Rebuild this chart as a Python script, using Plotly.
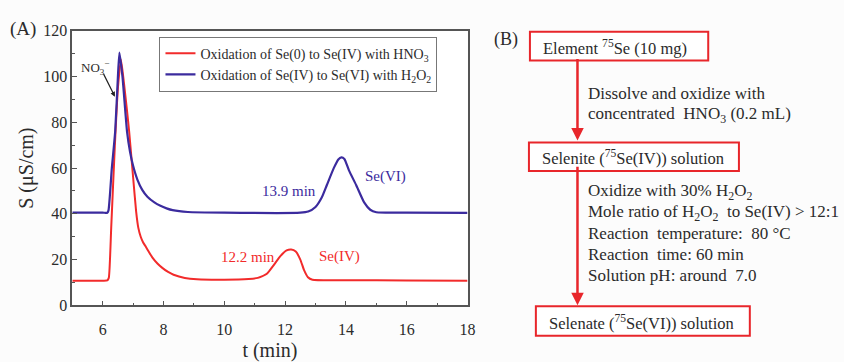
import plotly.graph_objects as go

W, H = 844, 362

# ---------------- data ----------------
t_red = [5.0, 6.0, 6.15, 6.2, 6.28, 6.4, 6.5, 6.6, 6.7, 6.8, 6.87, 7.0, 7.1, 7.17, 7.25,
         7.33, 7.41, 7.5, 7.63, 7.8, 7.95, 8.15, 8.33, 8.7, 9.1, 10.0, 10.8, 11.1, 11.4,
         11.62, 11.85, 12.05, 12.2, 12.35, 12.5, 12.62, 12.75, 12.9, 14.0, 16.0, 18.0]
s_red = [10.8, 10.8, 10.9, 12.0, 34, 70, 95, 107.5, 97, 85, 76, 56, 41, 34, 30,
         27.5, 25.8, 23.8, 21.0, 18.3, 16.5, 14.6, 13.4, 12.0, 11.4, 11.2, 11.5, 12.0, 13.8,
         17.5, 21.6, 24.0, 24.4, 23.5, 20.0, 15.5, 12.3, 11.2, 11.0, 10.9, 10.8]

t_blue = [5.0, 6.0, 6.15, 6.19, 6.3, 6.41, 6.5, 6.55, 6.65, 6.8, 6.9, 7.0, 7.14, 7.3,
          7.47, 7.7, 7.9, 8.1, 8.3, 8.8, 10.0, 12.5, 12.76, 13.0, 13.2, 13.37, 13.6,
          13.75, 13.85, 13.95, 14.1, 14.34, 14.6, 14.8, 15.0, 16.0, 18.0]
s_blue = [40.5, 40.5, 40.5, 41.5, 60, 76, 100, 110.5, 100, 76, 67, 61, 55, 50.5,
          47.5, 45.0, 43.5, 42.4, 41.6, 40.8, 40.5, 40.5, 41.0, 43.0, 47.0, 52.5, 60.0,
          63.8, 64.7, 64.0, 59.0, 52.5, 45.0, 41.8, 40.7, 40.5, 40.4]

series_names = ["Oxidation of Se(0) to Se(IV) with HNO<sub>3</sub>",
                "Oxidation of Se(IV) to Se(VI) with H<sub>2</sub>O<sub>2</sub>"]
x_ticks = [6, 8, 10, 12, 14, 16, 18]
y_ticks = [0, 20, 40, 60, 80, 100, 120]

RED = "#f22b2b"
BLUE = "#3b2b9e"
FONT = "Liberation Serif"
TXT = "#2b2b2b"

fig = go.Figure()
fig.add_trace(go.Scatter(x=t_red, y=s_red, mode="lines", name=series_names[0],
                         line=dict(color=RED, width=2, shape="spline", smoothing=0.5)))
fig.add_trace(go.Scatter(x=t_blue, y=s_blue, mode="lines", name=series_names[1],
                         line=dict(color=BLUE, width=2.2, shape="spline", smoothing=0.5)))

def px(x):
    return x / W

def py(y):
    return 1 - y / H

axis_common = dict(showline=True, linecolor="#555555", linewidth=1.5, mirror=True,
                   ticks="inside", ticklen=5, tickcolor="#555555", showgrid=False,
                   zeroline=False, tickfont=dict(family=FONT, size=16, color=TXT))

fig.update_layout(
    width=W, height=H, margin=dict(l=0, r=0, t=0, b=0),
    paper_bgcolor="#fcfcfc", plot_bgcolor="#ffffff",
    font=dict(family=FONT, color=TXT),
    xaxis=dict(domain=[px(73), px(472)], range=[5, 18], tickvals=x_ticks,
               minor=dict(ticks="inside", ticklen=3, dtick=1, tickcolor="#555555"),
               ticklabelstandoff=9,
               title=dict(text="t (min)", font=dict(family=FONT, size=20, color=TXT), standoff=10),
               **axis_common),
    yaxis=dict(domain=[py(312), py(24)], range=[0, 120], tickvals=y_ticks,
               minor=dict(ticks="inside", ticklen=3, dtick=10, tickcolor="#555555"),
               title=dict(text="S (μS/cm)", font=dict(family=FONT, size=20, color=TXT), standoff=4),
               **axis_common),
    legend=dict(x=px(161), y=py(30), xanchor="left", yanchor="top",
                bgcolor="#ffffff", bordercolor="#777777", borderwidth=1,
                font=dict(family=FONT, size=14, color=TXT), tracegroupgap=0,
                itemwidth=30),
    showlegend=True,
)

ann = []
def txt(x, y, s, size=15, color=TXT, xanchor="left"):
    ann.append(dict(x=px(x), y=py(y), xref="paper", yref="paper", text=s, showarrow=False,
                    xanchor=xanchor, yanchor="middle", font=dict(family=FONT, size=size, color=color)))

txt(8, 22, "(A)", size=19)
txt(497, 33, "(B)", size=18)
txt(80, 63, "NO<sub>3</sub><sup>−</sup>", size=13)
txt(262, 192, "13.9 min", size=15, color=BLUE)
txt(366, 177, "Se(VI)", size=15, color=BLUE)
txt(221, 261, "12.2 min", size=15, color=RED)
txt(320, 261, "Se(IV)", size=15, color=RED)

# NO3- arrow
ann.append(dict(x=px(116), y=py(93), xref="paper", yref="paper", ax=-12, ay=-24,
                axref="pixel", ayref="pixel", text="", showarrow=True, arrowhead=2,
                arrowsize=0.8, arrowwidth=1.2, arrowcolor="#222222"))

# flowchart boxes
boxes = [(535, 25, 715, 55), (534, 141, 746, 171), (541, 313, 757, 344)]
box_texts = ["Element <sup>75</sup>Se (10 mg)",
             "Selenite (<sup>75</sup>Se(IV)) solution",
             "Selenate (<sup>75</sup>Se(VI)) solution"]
shapes = []
for (x0, y0, x1, y1), s in zip(boxes, box_texts):
    shapes.append(dict(type="rect", xref="paper", yref="paper", x0=px(x0), x1=px(x1),
                       y0=py(y1), y1=py(y0), line=dict(color="#e8262b", width=2),
                       fillcolor="#ffffff", layer="above"))
    txt(x0 + 11, (y0 + y1) / 2 + 1, s, size=16.5)

# flowchart arrows
for (yt, yh) in [(56, 139), (172, 312)]:
    ann.append(dict(x=px(583), y=py(yh), xref="paper", yref="paper", ax=0, ay=-(yh - yt),
                    axref="pixel", ayref="pixel", text="", showarrow=True, arrowhead=2,
                    arrowsize=1, arrowwidth=2.5, arrowcolor="#e8262b", standoff=0))

step1 = ["Dissolve and oxidize with", "concentrated  HNO<sub>3</sub> (0.2 mL)"]
step2 = ["Oxidize with 30% H<sub>2</sub>O<sub>2</sub>",
         "Mole ratio of H<sub>2</sub>O<sub>2</sub>  to Se(IV) > 12:1",
         "Reaction  temperature:  80 °C",
         "Reaction  time: 60 min",
         "Solution pH: around  7.0"]
for i, s in enumerate(step1):
    txt(592, 90 + 22 * i, s, size=17)
for i, s in enumerate(step2):
    txt(592, 193 + 21.8 * i, s, size=17)

fig.update_layout(annotations=ann, shapes=shapes)
fig.write_html("out.html")
